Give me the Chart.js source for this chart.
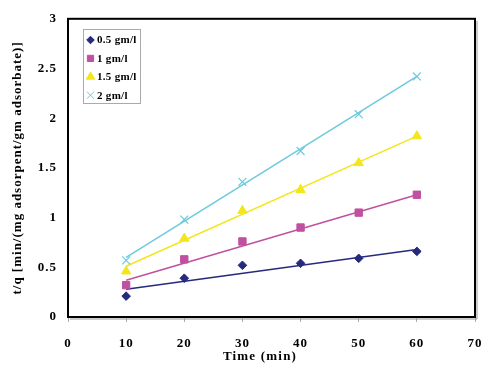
<!DOCTYPE html>
<html>
<head>
<meta charset="utf-8">
<script src="https://cdn.jsdelivr.net/npm/chart.js@4/dist/chart.umd.min.js"></script>
<style>
  html, body { margin: 0; padding: 0; background: #fff; }
  #wrap { width: 500px; height: 391px; }
</style>
</head>
<body>
<div id="wrap"><canvas id="kinetics"></canvas></div>
<script>
const SERIF = '"Liberation Serif", "Times New Roman", serif'

// data
const timeMin = [10, 20, 30, 40, 50, 60]
const seriesLabels = ['0.5 gm/l', '1 gm/l', '1.5 gm/l', '2 gm/l']
const tq05 = [0.21, 0.39, 0.52, 0.54, 0.59, 0.66]
const tq1 = [0.32, 0.58, 0.76, 0.90, 1.05, 1.23]
const tq15 = [0.46, 0.79, 1.07, 1.28, 1.55, 1.82]
const tq2 = [0.57, 0.98, 1.36, 1.67, 2.04, 2.42]
// trend line ends at t = 10 and t = 60
const trendT = [10, 60]
const trend05 = [0.28, 0.68]
const trend1 = [0.37, 1.23]
const trend15 = [0.51, 1.82]
const trend2 = [0.60, 2.42]
const xTicks = [0, 10, 20, 30, 40, 50, 60, 70]
const yTicks = [0, 0.5, 1, 1.5, 2, 2.5, 3]
const xTitle = 'Time (min)'
const yTitle = 't/q [min/(mg adsorpent/gm adsorbate)]'

const colors = ['#262a7c', '#c050a0', '#f3e61c', '#6ccade']
const styles = ['rectRot', 'rect', 'triangle', 'crossRot']
const radii = [4.3, 5.2, 5.4, 5.6]
const legendRadii = [3.8, 4.4, 4.8, 5]
const values = [tq05, tq1, tq15, tq2]
const trends = [trend05, trend1, trend15, trend2]

const toPoints = (xs, ys) => xs.map((x, i) => ({ x: x, y: ys[i] }))

const datasets = []
values.forEach((v, i) => {
  datasets.push({
    type: 'line',
    label: 'trend ' + seriesLabels[i],
    data: toPoints(trendT, trends[i]),
    borderColor: colors[i],
    borderWidth: 1.5,
    pointRadius: 0,
    fill: false,
    order: 2,
  })
})
values.forEach((v, i) => {
  datasets.push({
    type: 'scatter',
    label: seriesLabels[i],
    data: toPoints(timeMin, v),
    pointStyle: styles[i],
    pointRadius: radii[i],
    backgroundColor: colors[i],
    borderColor: colors[i],
    borderWidth: styles[i] === 'crossRot' ? 1.2 : 1,
    showLine: false,
    order: 1,
  })
})

// the reference text is a little spread out
const spacing = {
  id: 'spacing',
  beforeUpdate(chart) { chart.ctx.letterSpacing = '1px' },
  beforeDraw(chart) { chart.ctx.letterSpacing = '1px' },
}

// box round the plot area, x title and the legend inside it
const frame = {
  id: 'frame',
  afterDraw(chart) {
    const { ctx, chartArea: a } = chart
    ctx.save()
    ctx.strokeStyle = '#999'
    ctx.lineWidth = 1
    ctx.beginPath()
    ctx.moveTo(a.right + 2, a.top + 2)
    ctx.lineTo(a.right + 2, a.bottom + 2)
    ctx.lineTo(a.left + 2, a.bottom + 2)
    ctx.stroke()
    ctx.strokeStyle = '#000'
    ctx.lineWidth = 2
    ctx.strokeRect(a.left, a.top, a.right - a.left, a.bottom - a.top)

    ctx.fillStyle = '#000'
    ctx.font = 'bold 13px ' + SERIF
    ctx.letterSpacing = '1.2px'
    ctx.textAlign = 'center'
    ctx.textBaseline = 'middle'
    ctx.fillText(xTitle, 260, 357)

    // legend
    const lx = 83, ly = 29, lw = 57, lh = 74
    ctx.fillStyle = '#fff'
    ctx.fillRect(lx, ly, lw, lh)
    ctx.strokeStyle = '#aaa'
    ctx.lineWidth = 1
    ctx.strokeRect(lx + 0.5, ly + 0.5, lw, lh)
    ctx.font = 'bold 11px ' + SERIF
    ctx.letterSpacing = '0.3px'
    ctx.textAlign = 'left'
    seriesLabels.forEach((lab, i) => {
      const y = 40 + i * 18.4
      ctx.fillStyle = colors[i]
      ctx.strokeStyle = colors[i]
      Chart.helpers.drawPoint(ctx, {
        pointStyle: styles[i],
        radius: legendRadii[i],
        borderWidth: 1,
        rotation: 0,
      }, 90.5, y)
      ctx.fillStyle = '#000'
      ctx.fillText(lab, 97, y + 0.5)
    })
    ctx.restore()
  },
}

const tickFont = { family: SERIF, size: 13, weight: 'bold' }

const ctxKinetics = document.getElementById('kinetics').getContext('2d')
const kineticsChart = new Chart(ctxKinetics, {
  data: { datasets: datasets },
  options: {
    responsive: true,
    maintainAspectRatio: false,
    animation: false,
    layout: { padding: { left: 0, right: 25, top: 16, bottom: 0 } },
    plugins: {
      legend: { display: false },
      tooltip: { enabled: false },
    },
    scales: {
      x: {
        type: 'linear',
        min: 0,
        max: 70,
        afterBuildTicks: scale => {
          scale.ticks = xTicks.map(v => ({ value: v }))
        },
        afterFit: scale => {
          scale.height = 74
        },
        grid: {
          drawOnChartArea: false,
          drawTicks: true,
          tickLength: 5,
          tickColor: '#aaa',
        },
        border: { display: false },
        ticks: {
          color: '#000',
          padding: 14,
          maxRotation: 0,
          font: tickFont,
        },
        title: { display: false },
      },
      y: {
        type: 'linear',
        min: 0,
        max: 3,
        afterBuildTicks: scale => {
          scale.ticks = yTicks.map(v => ({ value: v }))
        },
        afterFit: scale => {
          scale.width = 68
        },
        grid: { display: false, drawTicks: false },
        border: { display: false },
        ticks: {
          color: '#000',
          padding: 11,
          font: tickFont,
          callback: value => value + '',
        },
        title: {
          display: true,
          text: yTitle,
          color: '#000',
          padding: { top: 10, bottom: 0 },
          font: tickFont,
        },
      },
    },
  },
  plugins: [spacing, frame],
})
</script>
</body>
</html>
